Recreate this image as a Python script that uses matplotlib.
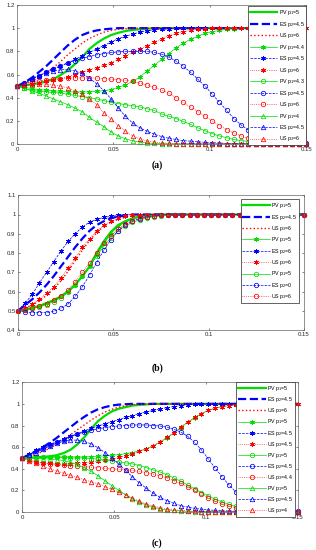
import numpy as np
import matplotlib
matplotlib.use("Agg")
import matplotlib.pyplot as plt

plt.rcParams['font.family'] = ['Liberation Sans', 'DejaVu Sans']
plt.rcParams['mathtext.default'] = 'regular'

N = 41
x = np.linspace(0, 0.15, N)


def flat(head, v):
    # curve has settled, repeat the plateau value to the end
    return head + [v] * (N - len(head))


# ---- panel (a) ----
a_labels = ['PV p$_1$=5', 'ES p$_2$=4.5', 'US p$_3$=6',
            'PV p$_1$=4.4', 'ES p$_2$=4.5', 'US p$_3$=6',
            'PV p$_1$=4.3', 'ES p$_2$=4.5', 'US p$_3$=6',
            'PV p$_1$=4', 'ES p$_2$=4.5', 'US p$_3$=6']
a_pv5 = flat([0.50, 0.505, 0.515, 0.525, 0.54, 0.56, 0.595, 0.635, 0.69, 0.75, 0.82, 0.87, 0.91, 0.94, 0.96, 0.975, 0.985, 0.99, 0.995], 1.0)
a_es45 = flat([0.50, 0.53, 0.57, 0.62, 0.67, 0.73, 0.79, 0.85, 0.90, 0.94, 0.965, 0.98, 0.99, 0.995], 1.0)
a_us6 = flat([0.50, 0.52, 0.54, 0.57, 0.61, 0.66, 0.71, 0.77, 0.82, 0.87, 0.91, 0.94, 0.965, 0.98, 0.99, 0.995], 1.0)
a_pv44_s = flat([0.50, 0.49, 0.48, 0.47, 0.465, 0.46, 0.455, 0.45, 0.45, 0.45, 0.45, 0.455, 0.46, 0.47, 0.49, 0.51, 0.54, 0.58, 0.63, 0.68, 0.73, 0.78, 0.83, 0.87, 0.905, 0.93, 0.955, 0.97, 0.98, 0.99, 0.995], 1.0)
a_es45_s = flat([0.50, 0.53, 0.56, 0.59, 0.62, 0.645, 0.67, 0.70, 0.73, 0.76, 0.79, 0.82, 0.85, 0.88, 0.91, 0.93, 0.95, 0.965, 0.975, 0.985, 0.99, 0.995], 1.0)
a_us6_s = flat([0.50, 0.51, 0.52, 0.53, 0.54, 0.55, 0.565, 0.58, 0.60, 0.62, 0.64, 0.66, 0.68, 0.70, 0.73, 0.76, 0.79, 0.82, 0.85, 0.88, 0.91, 0.935, 0.955, 0.97, 0.98, 0.99, 0.995], 1.0)
a_pv43_o = flat([0.50, 0.48, 0.465, 0.455, 0.45, 0.445, 0.44, 0.43, 0.42, 0.41, 0.40, 0.39, 0.375, 0.36, 0.35, 0.34, 0.33, 0.32, 0.305, 0.29, 0.26, 0.24, 0.22, 0.195, 0.17, 0.14, 0.115, 0.09, 0.07, 0.055, 0.04, 0.03, 0.022, 0.017, 0.013, 0.01, 0.008, 0.006], 0.005)
a_es45_o = flat([0.50, 0.53, 0.56, 0.59, 0.62, 0.65, 0.675, 0.70, 0.72, 0.74, 0.755, 0.77, 0.78, 0.79, 0.795, 0.80, 0.80, 0.80, 0.80, 0.79, 0.775, 0.75, 0.715, 0.67, 0.62, 0.56, 0.50, 0.43, 0.36, 0.29, 0.22, 0.165, 0.12, 0.085, 0.06, 0.04, 0.03, 0.02, 0.015], 0.01)
a_us6_o = flat([0.50, 0.52, 0.535, 0.545, 0.555, 0.56, 0.565, 0.57, 0.57, 0.57, 0.57, 0.57, 0.565, 0.56, 0.555, 0.55, 0.54, 0.525, 0.51, 0.49, 0.465, 0.44, 0.40, 0.36, 0.32, 0.28, 0.24, 0.20, 0.16, 0.125, 0.095, 0.07, 0.05, 0.035, 0.025, 0.02, 0.015, 0.01, 0.008, 0.006], 0.005)
a_pv4_t = flat([0.50, 0.48, 0.46, 0.44, 0.415, 0.39, 0.365, 0.34, 0.31, 0.28, 0.23, 0.19, 0.15, 0.105, 0.07, 0.045, 0.028, 0.017, 0.01, 0.006, 0.004], 0.002)
a_es45_t = flat([0.50, 0.53, 0.56, 0.59, 0.61, 0.63, 0.64, 0.645, 0.63, 0.61, 0.57, 0.52, 0.46, 0.39, 0.31, 0.24, 0.18, 0.14, 0.11, 0.085, 0.065, 0.05, 0.04, 0.03, 0.025, 0.02, 0.015, 0.012, 0.01], 0.005)
a_us6_t = flat([0.50, 0.51, 0.52, 0.52, 0.515, 0.51, 0.50, 0.485, 0.46, 0.43, 0.39, 0.34, 0.27, 0.215, 0.16, 0.11, 0.07, 0.045, 0.028, 0.017, 0.01, 0.007], 0.005)

# ---- panel (b) ----
b_labels = ['PV p$_1$=5', 'ES p$_2$=4.5', 'US p$_3$=6',
            'PV p$_1$=5', 'ES p$_2$=6', 'US p$_3$=6',
            'PV p$_1$=5', 'ES p$_2$=0', 'US p$_3$=6']
b_pv5 = flat([0.50, 0.505, 0.515, 0.525, 0.54, 0.555, 0.575, 0.60, 0.635, 0.68, 0.73, 0.80, 0.86, 0.91, 0.945, 0.965, 0.98, 0.99, 0.995], 1.0)
b_es45 = flat([0.50, 0.53, 0.56, 0.595, 0.635, 0.68, 0.73, 0.78, 0.83, 0.875, 0.915, 0.945, 0.965, 0.98, 0.99, 0.995], 1.0)
b_us6 = flat([0.50, 0.512, 0.53, 0.552, 0.58, 0.615, 0.655, 0.705, 0.76, 0.815, 0.865, 0.905, 0.94, 0.96, 0.975, 0.985, 0.992, 0.996], 1.0)
b_pv5_s = flat([0.50, 0.505, 0.515, 0.525, 0.54, 0.555, 0.575, 0.60, 0.635, 0.68, 0.73, 0.79, 0.85, 0.90, 0.94, 0.96, 0.975, 0.985, 0.993, 0.997], 1.0)
b_es6_s = flat([0.50, 0.54, 0.585, 0.645, 0.70, 0.755, 0.81, 0.86, 0.90, 0.935, 0.96, 0.975, 0.985, 0.99, 0.995], 1.0)
b_us6_s = flat([0.50, 0.515, 0.535, 0.56, 0.59, 0.625, 0.67, 0.72, 0.775, 0.83, 0.875, 0.915, 0.945, 0.965, 0.98, 0.99, 0.995], 1.0)
b_pv5_o = flat([0.50, 0.505, 0.512, 0.52, 0.532, 0.548, 0.568, 0.595, 0.635, 0.68, 0.73, 0.785, 0.835, 0.88, 0.915, 0.94, 0.96, 0.972, 0.982, 0.988, 0.993, 0.996], 1.0)
b_es0_o = flat([0.50, 0.495, 0.49, 0.49, 0.49, 0.497, 0.512, 0.535, 0.575, 0.625, 0.685, 0.75, 0.815, 0.87, 0.915, 0.945, 0.965, 0.978, 0.987, 0.993, 0.997], 1.0)
b_us6_o = flat([0.50, 0.505, 0.513, 0.523, 0.537, 0.555, 0.578, 0.61, 0.65, 0.70, 0.75, 0.80, 0.85, 0.89, 0.925, 0.95, 0.968, 0.98, 0.988, 0.993, 0.996], 1.0)

# ---- panel (c) ----
c_labels = ['PV p$_1$=5', 'ES p$_2$=4.5', 'US p$_3$=6',
            'PV p$_1$=5', 'ES p$_2$=4.5', 'US p$_3$=4.5',
            'PV p$_1$=5', 'ES p$_2$=4.5', 'US p$_3$=4.4',
            'PV p$_1$=5', 'ES p$_2$=4.5', 'US p$_3$=4']
c_pv5 = flat([0.50, 0.502, 0.505, 0.51, 0.515, 0.525, 0.545, 0.575, 0.625, 0.69, 0.77, 0.84, 0.89, 0.93, 0.955, 0.97, 0.985, 0.99, 0.995], 1.0)
c_es45 = flat([0.50, 0.53, 0.56, 0.60, 0.64, 0.685, 0.735, 0.785, 0.835, 0.88, 0.92, 0.95, 0.97, 0.985, 0.993, 0.997], 1.0)
c_us6 = flat([0.50, 0.515, 0.535, 0.56, 0.59, 0.625, 0.67, 0.715, 0.76, 0.805, 0.85, 0.89, 0.925, 0.95, 0.97, 0.985, 0.993, 0.997], 1.0)
c_pv5_s = flat([0.50, 0.505, 0.508, 0.51, 0.51, 0.51, 0.51, 0.51, 0.51, 0.51, 0.512, 0.515, 0.52, 0.525, 0.53, 0.54, 0.55, 0.565, 0.585, 0.61, 0.645, 0.685, 0.73, 0.78, 0.83, 0.87, 0.91, 0.94, 0.96, 0.975, 0.985, 0.99, 0.995], 1.0)
c_es45_s = flat([0.50, 0.535, 0.57, 0.60, 0.625, 0.65, 0.675, 0.70, 0.725, 0.75, 0.775, 0.795, 0.815, 0.835, 0.855, 0.875, 0.89, 0.91, 0.925, 0.94, 0.955, 0.965, 0.975, 0.985, 0.99, 0.995], 1.0)
c_us45_s = flat([0.50, 0.48, 0.465, 0.455, 0.45, 0.445, 0.445, 0.445, 0.45, 0.455, 0.46, 0.47, 0.48, 0.49, 0.505, 0.52, 0.54, 0.56, 0.585, 0.615, 0.65, 0.69, 0.735, 0.785, 0.835, 0.875, 0.91, 0.94, 0.96, 0.975, 0.985, 0.99, 0.995], 1.0)
c_pv5_o = flat([0.50, 0.505, 0.505, 0.505, 0.505, 0.505, 0.505, 0.50, 0.50, 0.50, 0.495, 0.49, 0.48, 0.475, 0.465, 0.455, 0.445, 0.43, 0.41, 0.39, 0.37, 0.345, 0.315, 0.285, 0.25, 0.215, 0.18, 0.15, 0.12, 0.095, 0.07, 0.052, 0.038, 0.028, 0.02, 0.015, 0.011, 0.009, 0.007, 0.006], 0.005)
c_es45_o = flat([0.50, 0.53, 0.56, 0.59, 0.62, 0.645, 0.67, 0.695, 0.72, 0.74, 0.755, 0.77, 0.78, 0.79, 0.795, 0.80, 0.805, 0.805, 0.805, 0.80, 0.795, 0.785, 0.765, 0.74, 0.70, 0.645, 0.575, 0.49, 0.405, 0.325, 0.25, 0.185, 0.135, 0.095, 0.065, 0.045, 0.032, 0.022, 0.015, 0.012], 0.01)
c_us44_o = flat([0.50, 0.48, 0.465, 0.455, 0.445, 0.44, 0.435, 0.43, 0.425, 0.42, 0.415, 0.41, 0.405, 0.40, 0.395, 0.39, 0.385, 0.375, 0.365, 0.35, 0.335, 0.315, 0.29, 0.265, 0.235, 0.20, 0.165, 0.13, 0.10, 0.075, 0.055, 0.04, 0.03, 0.022, 0.016, 0.012, 0.009, 0.007, 0.006], 0.005)
c_pv5_t = flat([0.50, 0.50, 0.50, 0.495, 0.49, 0.485, 0.475, 0.46, 0.44, 0.41, 0.375, 0.335, 0.29, 0.245, 0.20, 0.16, 0.12, 0.09, 0.065, 0.045, 0.03, 0.02, 0.015, 0.01, 0.007], 0.005)
c_es45_t = flat([0.50, 0.525, 0.55, 0.58, 0.61, 0.635, 0.655, 0.665, 0.665, 0.655, 0.63, 0.595, 0.55, 0.50, 0.445, 0.385, 0.325, 0.27, 0.22, 0.175, 0.135, 0.105, 0.08, 0.06, 0.045, 0.035, 0.025, 0.02, 0.015, 0.012, 0.01, 0.008], 0.005)
c_us4_t = flat([0.50, 0.475, 0.45, 0.425, 0.40, 0.38, 0.36, 0.34, 0.32, 0.30, 0.28, 0.26, 0.235, 0.21, 0.185, 0.16, 0.13, 0.10, 0.075, 0.055, 0.04, 0.03, 0.02, 0.015, 0.01, 0.008], 0.005)

GREEN = '#00dd00'
BLUE = '#0000ff'
RED = '#ff0000'
STAR = (6, 2, 0)


def draw(ax, series, labels, ylim, yticks, anchor, spacing):
    for j, y in enumerate(series):
        group, member = j // 3, j % 3
        col = [GREEN, BLUE, RED][member]
        ls = ['-', '--', ':'][member]
        mk = [None, STAR, 'o', '^'][group]
        if group == 0:
            lw = 1.6 if member < 2 else 1.0
        else:
            lw = 0.5
        ax.plot(x, y, color=col, ls=ls, lw=lw, marker=mk,
                ms=3.6 if mk == STAR else 3.2, mew=0.55,
                mfc=col if mk == STAR else 'none', mec=col,
                clip_on=False, label=labels[j])
    ax.set_xlim(0, 0.15)
    ax.set_ylim(*ylim)
    ax.set_xticks([0, 0.05, 0.1, 0.15])
    ax.set_xticklabels(['0', '0.05', '0.1', '0.15'])
    ax.set_yticks(yticks)
    ax.set_yticklabels(['%g' % round(t, 2) for t in yticks])
    ax.tick_params(direction='in', length=1.6, width=0.4, labelsize=4.3,
                   top=True, right=True, pad=1.8, colors='0.15')
    for s in ax.spines.values():
        s.set_linewidth(0.5)
        s.set_color('0.4')
    leg = ax.legend(loc='upper right', bbox_to_anchor=anchor, fontsize=3.8,
                    handlelength=5.2, handletextpad=0.3, labelspacing=spacing,
                    borderpad=0.35, borderaxespad=0, fancybox=False,
                    edgecolor='0.15', framealpha=1, numpoints=1)
    leg.get_frame().set_linewidth(0.5)


fig = plt.figure(figsize=(3.16, 5.5), dpi=100)

ax_a = fig.add_axes([0.054, 0.738, 0.915, 0.253])
draw(ax_a, [a_pv5, a_es45, a_us6, a_pv44_s, a_es45_s, a_us6_s,
            a_pv43_o, a_es45_o, a_us6_o, a_pv4_t, a_es45_t, a_us6_t],
     a_labels, (0, 1.2), [0, 0.2, 0.4, 0.6, 0.8, 1.0, 1.2], (1.0, 0.99), 0.47)

ax_b = fig.add_axes([0.057, 0.40, 0.905, 0.245])
draw(ax_b, [b_pv5, b_es45, b_us6, b_pv5_s, b_es6_s, b_us6_s,
            b_pv5_o, b_es0_o, b_us6_o],
     b_labels, (0.4, 1.1), [0.4, 0.5, 0.6, 0.7, 0.8, 0.9, 1.0, 1.1], (0.983, 0.97), 0.45)

ax_c = fig.add_axes([0.07, 0.069, 0.873, 0.236])
draw(ax_c, [c_pv5, c_es45, c_us6, c_pv5_s, c_es45_s, c_us45_s,
            c_pv5_o, c_es45_o, c_us44_o, c_pv5_t, c_es45_t, c_us4_t],
     c_labels, (0, 1.2), [0, 0.2, 0.4, 0.6, 0.8, 1.0, 1.2], (0.99, 1.0), 0.4)

for txt, ypix in [('(a)', 165), ('(b)', 368), ('(c)', 543)]:
    fig.text(0.497, 1 - ypix / 550, txt, ha='center', va='center', fontsize=7,
             fontweight='bold', family='Liberation Serif')

fig.savefig('out.png', dpi=100)
